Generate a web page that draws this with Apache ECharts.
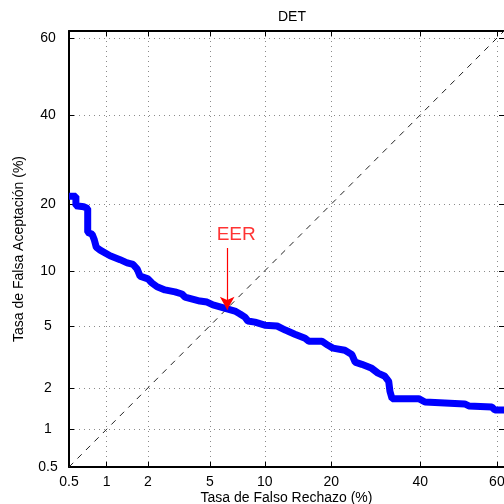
<!DOCTYPE html>
<html>
<head>
<meta charset="utf-8">
<script src="https://cdn.jsdelivr.net/npm/echarts@6/dist/echarts.min.js"></script>
<style>html,body{margin:0;padding:0;background:#fff}#c{width:504px;height:504px}</style>
</head>
<body>
<div id="c"></div>
<script>
// ---- data (percent) ----
const tickValues = [0.5, 1, 2, 5, 10, 20, 40, 60];
const frr = [0.5, 0.57, 0.57, 0.66, 0.71, 0.71, 0.77, 0.80, 0.83, 0.89, 1.06, 1.26, 1.42, 1.57, 1.68, 1.76, 2.0, 2.13, 2.31, 2.61, 3.04, 3.37, 3.52, 4.36, 4.81, 5.22, 6.29, 6.96, 7.42, 7.89, 8.18, 8.91, 10.0, 11.5, 12.6, 13.95, 15.5, 16.1, 18.3, 19.4, 20.3, 22.6, 24.0, 24.7, 26.1, 28.3, 29.7, 31.3, 32.2, 32.5, 33.0, 39.6, 41.2, 51.6, 52.7, 58.7, 59.5, 62];
const far = [21.5, 21.5, 19.7, 19.5, 19.2, 15.2, 14.9, 14.1, 13.0, 12.6, 11.85, 11.35, 10.95, 10.75, 10.2, 9.4, 9.1, 8.66, 8.27, 7.96, 7.77, 7.57, 7.29, 6.93, 6.84, 6.59, 6.26, 6.09, 5.86, 5.62, 5.34, 5.26, 5.05, 4.99, 4.72, 4.46, 4.21, 4.04, 4.04, 3.81, 3.66, 3.55, 3.34, 2.98, 2.88, 2.71, 2.52, 2.40, 2.22, 1.89, 1.68, 1.68, 1.59, 1.54, 1.49, 1.46, 1.39, 1.39];
const axisRange = [0.5, 61.8];
const eerPoint = [6.3, 6.2];
const eerArrowStartFAR = 12.9;

// ---- probit (inverse normal CDF, Acklam) ----
function probit(p){
  const a=[-3.969683028665376e+01,2.209460984245205e+02,-2.759285104469687e+02,1.383577518672690e+02,-3.066479806614716e+01,2.506628277459239e+00];
  const b=[-5.447609879822406e+01,1.615858368580409e+02,-1.556989798598866e+02,6.680131188771972e+01,-1.328068155288572e+01];
  const c=[-7.784894002430293e-03,-3.223964580411365e-01,-2.400758277161838e+00,-2.549732539343734e+00,4.374664141464968e+00,2.938163982698783e+00];
  const d=[7.784695709041462e-03,3.224671290700398e-01,2.445134137142996e+00,3.754408661907416e+00];
  const pl=0.02425, ph=1-pl; let q,r;
  if(p<pl){q=Math.sqrt(-2*Math.log(p));return (((((c[0]*q+c[1])*q+c[2])*q+c[3])*q+c[4])*q+c[5])/((((d[0]*q+d[1])*q+d[2])*q+d[3])*q+1);}
  if(p<=ph){q=p-0.5;r=q*q;return (((((a[0]*r+a[1])*r+a[2])*r+a[3])*r+a[4])*r+a[5])*q/(((((b[0]*r+b[1])*r+b[2])*r+b[3])*r+b[4])*r+1);}
  q=Math.sqrt(-2*Math.log(1-p));return -(((((c[0]*q+c[1])*q+c[2])*q+c[3])*q+c[4])*q+c[5])/((((d[0]*q+d[1])*q+d[2])*q+d[3])*q+1);
}
const P = v => probit(v/100);
const tickPos = tickValues.map(P);
const PMIN = P(axisRange[0]), PMAX = P(axisRange[1]);
function labelFor(v){
  let best=0;
  tickPos.forEach((p,i)=>{ if(Math.abs(p-v)<Math.abs(tickPos[best]-v)) best=i; });
  return String(tickValues[best]);
}
const FONT = "'Liberation Sans', Arial, sans-serif";

function mkAxis(pos, isMain, name){
  const isY = (pos==='left' || pos==='right');
  return {
    type:'value', position:pos, min:PMIN, max:PMAX,
    axisLine:{show: pos!=='right', onZero:false, lineStyle:{color:'#000', width:2}},
    axisTick:{show:true, inside:true, length:5, customValues:tickPos, lineStyle:{color:'#000', width:1}},
    axisLabel:{show:isMain, customValues:tickPos, formatter:labelFor, color:'#000', fontSize:14, fontFamily:FONT,
               margin: isY ? 21 : 8, align: isY ? 'center' : undefined},
    splitLine:{show:isMain, lineStyle:{type:[1,4], color:'#8a8a8a', width:1}},
    name: isMain ? name : '',
    nameLocation:'middle',
    nameMoveOverlap:false,
    nameGap: isY ? 43 : 24,
    nameTextStyle:{color:'#000', fontSize:14, fontFamily:FONT}
  };
}

const chart = echarts.init(document.getElementById('c'), null, {renderer:'canvas'});
chart.setOption({
  animation:false,
  backgroundColor:'#fff',
  title:{text:'DET', left:287, top:5, textAlign:'center', textStyle:{fontSize:14, fontWeight:'normal', color:'#000', fontFamily:FONT}},
  grid:{left:69, top:31, right:0, bottom:37, containLabel:false, outerBoundsMode:'none'},
  xAxis:[mkAxis('bottom', true, 'Tasa de Falso Rechazo (%)'), mkAxis('top', false, '')],
  yAxis:[mkAxis('left', true, 'Tasa de Falsa Aceptación (%)'), mkAxis('right', false, '')],
  series:[
    {type:'line', data:[[PMIN,PMIN],[PMAX,PMAX]], symbol:'none', silent:true,
     lineStyle:{color:'#222', width:1, type:[6,6]}},
    {type:'line', data:frr.map((v,i)=>[P(v), P(far[i])]), symbol:'none',
     lineStyle:{color:'#0000ff', width:7}, z:3,
     markLine:{silent:true, symbol:['none','arrow'], symbolSize:[11,13], label:{show:false},
       lineStyle:{color:'#ff0000', width:1.2, type:'solid'},
       data:[[{coord:[P(eerPoint[0]), P(eerArrowStartFAR)]},{coord:[P(eerPoint[0]), P(eerPoint[1])]}]]}},
    {type:'scatter', data:[[P(eerPoint[0]), P(eerArrowStartFAR)]], symbolSize:0, silent:true,
     label:{show:true, position:'top', distance:4, offset:[9,0], formatter:'EER', color:'#ff0000', fontSize:19, fontFamily:FONT}}
  ]
});
</script>
</body>
</html>
